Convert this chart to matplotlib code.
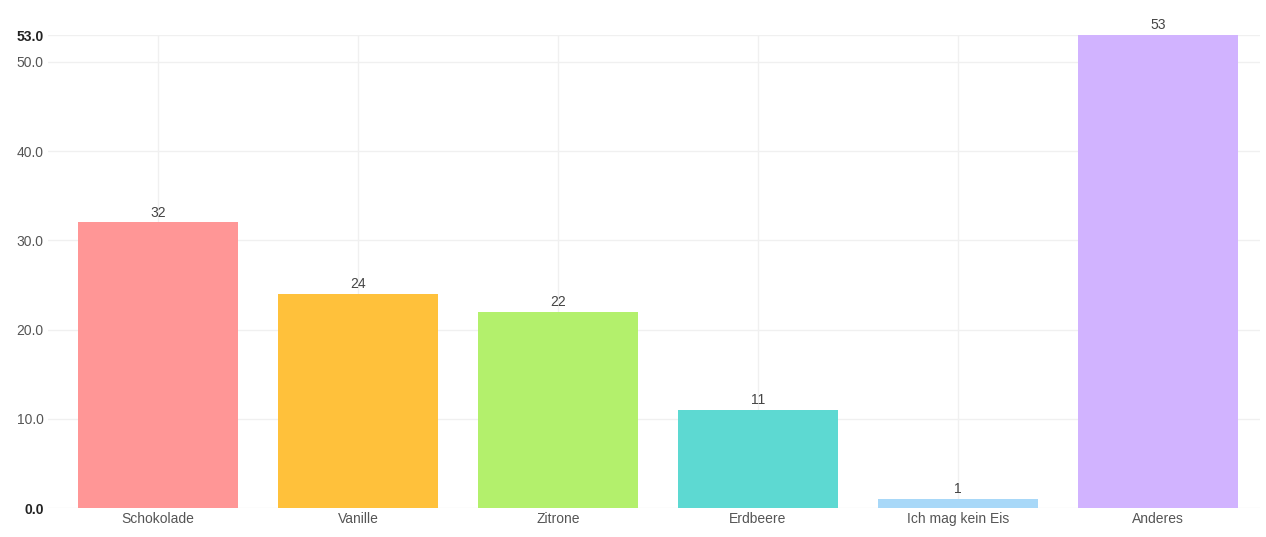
import matplotlib
matplotlib.use("Agg")
import matplotlib.pyplot as plt

# Umfragedaten: Lieblingseis
categories = ["Schokolade", "Vanille", "Zitrone", "Erdbeere", "Ich mag kein Eis", "Anderes"]
counts = [32, 24, 22, 11, 1, 53]
colors = ["#FF9696", "#FFC13B", "#B3F06C", "#5DD9D2", "#A8D8F8", "#D1B3FF"]
yticks = [0, 10, 20, 30, 40, 50]

plt.rcParams["font.family"] = ["Liberation Sans", "DejaVu Sans"]

fig = plt.figure(figsize=(12.66, 5.37), dpi=100)
ax = fig.add_axes([48 / 1266, 29 / 537, 1212 / 1266, 473 / 537])

x = list(range(len(categories)))
bars = ax.bar(x, counts, width=0.8, color=colors, zorder=2)
ax.bar_label(bars, labels=[str(c) for c in counts], padding=2, fontsize=10, color="#444444")

ymax = max(counts)
ax.set_ylim(0, ymax)
ax.set_xlim(-0.55, 5.51)

ax.set_xticks(x)
ax.set_xticklabels(categories, fontsize=10, color="#555555")

ticks = yticks + [ymax]
ax.set_yticks(ticks)
labels = ax.set_yticklabels([f"{t:.1f}" for t in ticks], fontsize=10, color="#555555")
# Min und Max fett hervorheben
for lbl, t in zip(labels, ticks):
    if t in (0, ymax):
        lbl.set_fontweight("bold")
        lbl.set_color("#222222")

ax.tick_params(axis="both", length=0, pad=3)
for s in ax.spines.values():
    s.set_visible(False)
ax.grid(True, color="#F0F0F0", linewidth=1, zorder=0)
ax.set_axisbelow(True)

fig.savefig("out.png", dpi=100)
